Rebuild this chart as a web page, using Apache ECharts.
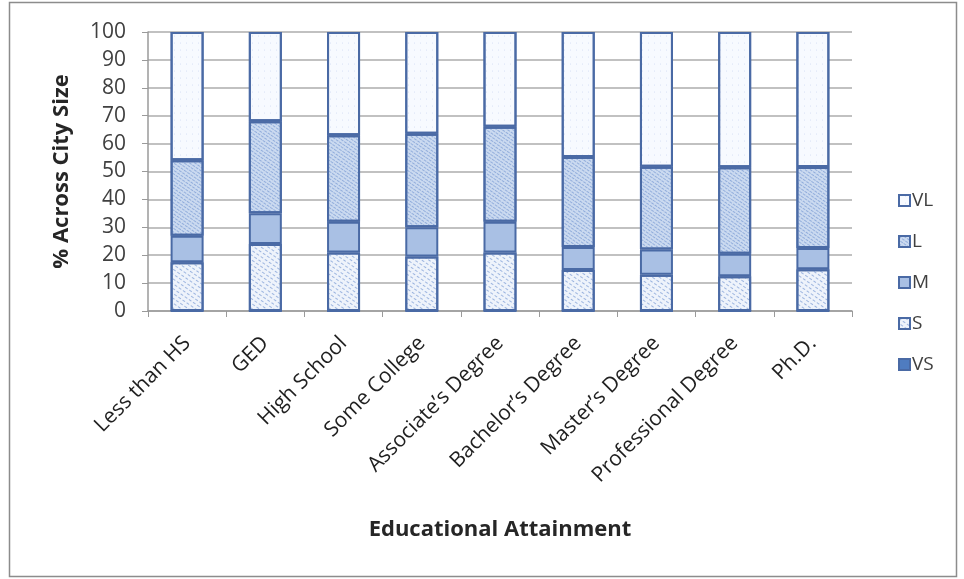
<!DOCTYPE html>
<html><head><meta charset="utf-8">
<script src="https://cdn.jsdelivr.net/npm/echarts@6/dist/echarts.min.js"></script>
<style>html,body{margin:0;padding:0;background:#fff}#c{width:964px;height:579px}</style>
</head><body><div id="c"></div>
<script>
const categories = ["Less than HS","GED","High School","Some College","Associate\u2019s Degree","Bachelor\u2019s Degree","Master\u2019s Degree","Professional Degree","Ph.D."];
const seriesNames = ["VS","S","M","L","VL"];
const vsValues = [0,0,0,0,0,0,0,0,0];
const sValues  = [17.5,24,21,19.5,21,14.7,13,12.5,15];
const mValues  = [9.5,11,11,10.5,11,8.2,9,8,7.6];
const lValues  = [27,33,31,33.5,34,32.3,29.7,31,29];
const vlValues = [46,32,37,36.5,34,44.8,48.3,48.5,48.4];
const yTicks = [0,10,20,30,40,50,60,70,80,90,100];

const font = "'Open Sans', 'Liberation Sans', sans-serif";
const edge = '#4a6aa5';
const styles = {
  VS: {color:'#4f7cc0', decal:null},
  S:  {color:'#eef3fb', decal:{symbol:'rect', symbolSize:1, color:'rgba(90,130,200,0.55)', dashArrayX:[[3,2]], dashArrayY:[1,3], rotation:0.6}},
  M:  {color:'#a9c0e4', decal:null},
  L:  {color:'#cbdaf0', decal:{symbol:'rect', symbolSize:1, color:'rgba(90,130,200,0.5)', dashArrayX:[[3,1]], dashArrayY:[1,2], rotation:0.6}},
  VL: {color:'#f7faff', decal:{symbol:'circle', symbolSize:0.8, color:'rgba(120,150,210,0.55)', dashArrayX:[1,5], dashArrayY:[2,5]}}
};
const dataMap = {VS:vsValues, S:sValues, M:mValues, L:lValues, VL:vlValues};

const chart = echarts.init(document.getElementById('c'), null, {renderer:'canvas'});
chart.setOption({
  animation:false,
  textStyle:{fontFamily:font},
  graphic:[{type:'rect', shape:{x:9.5,y:2.5,width:947,height:574}, style:{fill:'none', stroke:'#8c8c8c', lineWidth:1.5}, silent:true}],
  grid:{left:148, right:112, top:32, bottom:268},
  legend:{
    orient:'vertical', left:893, top:186, itemGap:22, itemWidth:11, itemHeight:11,
    data:['VL','L','M','S','VS'],
    textStyle:{fontSize:19, color:'#404040', fontFamily:font, padding:[0,0,0,-3]},
    icon:'rect'
  },
  xAxis:{
    type:'category', data:categories,
    name:'Educational Attainment', nameLocation:'middle', nameGap:208,
    nameTextStyle:{fontSize:22, fontWeight:'bold', color:'#262626', fontFamily:font},
    axisLine:{lineStyle:{color:'#9a9a9a', width:1.5}},
    axisTick:{show:true, length:6, lineStyle:{color:'#9a9a9a'}},
    axisLabel:{rotate:45, fontSize:21, color:'#1f1f1f', margin:29, interval:0, fontFamily:font}
  },
  yAxis:{
    type:'value', min:0, max:100, interval:10,
    name:'% Across City Size', nameLocation:'middle', nameGap:75,
    nameTextStyle:{fontSize:22, fontWeight:'bold', color:'#262626', fontFamily:font},
    axisLine:{show:true, lineStyle:{color:'#9a9a9a', width:1.5}},
    axisTick:{show:true, length:6, inside:false, lineStyle:{color:'#9a9a9a'}},
    axisLabel:{fontSize:21, color:'#404040', margin:22, fontFamily:font,
      formatter:(v)=> yTicks.includes(v) ? String(v) : ''},
    splitLine:{lineStyle:{color:'#adadad', width:1.5}}
  },
  series: seriesNames.map(n => {
    const it = {color:styles[n].color, borderColor:edge, borderWidth:2};
    if (styles[n].decal) it.decal = styles[n].decal;
    return {name:n, type:'bar', stack:'total', barWidth:33, data:dataMap[n], itemStyle:it};
  })
});
</script></body></html>
